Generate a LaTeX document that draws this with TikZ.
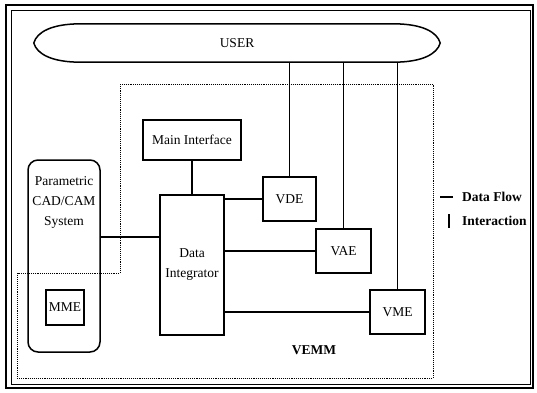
\documentclass[tikz,border=0pt]{standalone}
\usepackage{fontspec}
\setmainfont{Liberation Serif}
\usetikzlibrary{positioning, shapes.geometric, backgrounds}

\tikzset{
  modbox/.style={draw, line width=1.5pt, inner sep=0pt, align=center,
                 font=\fontsize{13.5}{20}\selectfont},
  flowline/.style={line width=2.4pt},
  actline/.style={line width=1.6pt},
  region/.style={densely dotted, line width=0.9pt},
  keytext/.style={anchor=west, inner sep=0pt, font=\fontsize{13.5}{16}\selectfont\bfseries},
}

\begin{document}
\begin{tikzpicture}[x=1pt, y=-1pt]
\useasboundingbox (0,0) rectangle (537,392);
% frame
\draw[line width=1.8pt] (6,5) rectangle (533,388);
\draw[line width=0.8pt] (11,10) rectangle (530,384);
% VEMM region
\draw[region] (120,84) -- (433,84) -- (433,378) -- (17,378) -- (17,273) -- (120,273) -- cycle;
\node[font=\fontsize{13.5}{16}\selectfont\bfseries] (vemm) at (314,350) {VEMM};

% user
\node[inner sep=0pt, minimum width=406pt, minimum height=38pt,
      font=\fontsize{13.5}{20}\selectfont] (user) at (237,43) {};
\draw[line width=1.5pt, fill=white]
  (user.west) .. controls ([xshift=3pt, yshift=11pt]user.west) and ([xshift=18pt]user.north west) .. ([xshift=47pt]user.north west)
  -- ([xshift=-47pt]user.north east)
  .. controls ([xshift=-18pt]user.north east) and ([xshift=-3pt, yshift=11pt]user.east) .. (user.east)
  .. controls ([xshift=-3pt, yshift=-11pt]user.east) and ([xshift=-18pt]user.south east) .. ([xshift=-47pt]user.south east)
  -- ([xshift=47pt]user.south west)
  .. controls ([xshift=18pt]user.south west) and ([xshift=3pt, yshift=-11pt]user.west) .. (user.west);
\node[font=\fontsize{13.5}{20}\selectfont] at (user) {USER};

% modules
\node[modbox, minimum width=98pt, minimum height=40pt] (mainif) at (192,140) {Main Interface};
\node[modbox, rounded corners=10pt, minimum width=72pt, minimum height=192pt] (cad) at (64,256) {};
\node[align=center, inner sep=0pt, font=\fontsize{13.5}{20}\selectfont,
      below=17pt of cad.north] (cadtext) {Parametric\\CAD/CAM\\System};
\node[modbox, minimum width=38pt, minimum height=35pt] (mme) at (65,307.5) {MME};
\node[modbox, minimum width=64pt, minimum height=140pt] (integ) at (192,265) {Data\\Integrator};
\node[modbox, minimum width=53pt, minimum height=44pt] (vde) at (289.5,199) {VDE};
\node[modbox, minimum width=55pt, minimum height=44pt] (vae) at (343.5,251) {VAE};
\node[modbox, minimum width=55pt, minimum height=44pt] (vme) at (397.5,312) {VME};

% data flow
\draw[flowline] ([yshift=19pt]cad.east) coordinate (cadout) -- (cadout -| integ.west);
\draw[flowline] (mainif.south) -- (integ.north);
\draw[flowline] (vde.west) -- (vde.west -| integ.east);
\draw[flowline] (vae.west) -- (vae.west -| integ.east);
\draw[flowline] (vme.west) -- (vme.west -| integ.east);

% interaction
\draw[actline] (vde.north) -- (vde.north |- user.south);
\draw[actline] (vae.north) -- (vae.north |- user.south);
\draw[actline] (vme.north) -- (vme.north |- user.south);

% key
\node[keytext] (flowkey) at (462,197) {Data Flow};
\node[keytext] (actkey) at (462,221) {Interaction};
\draw[flowline] ([xshift=-9pt]flowkey.west) -- ++(-13,0);
\draw[actline] ([xshift=-13pt]actkey.west) ++(0,-7) -- ++(0,14);
\end{tikzpicture}
\end{document}
